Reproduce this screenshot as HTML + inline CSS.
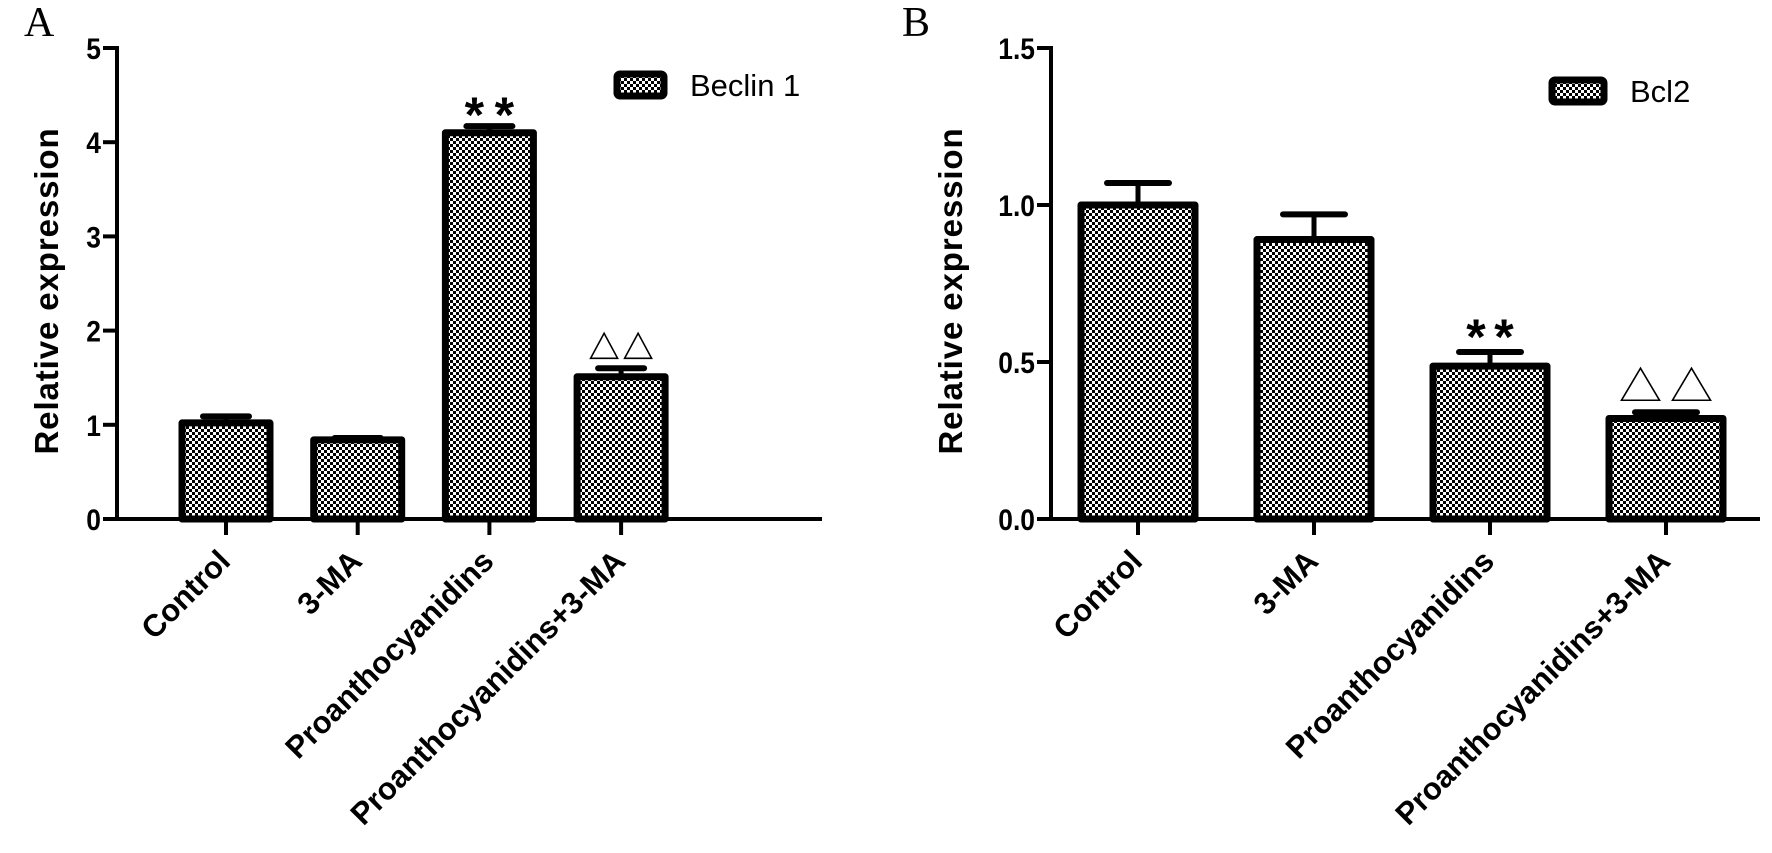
<!DOCTYPE html>
<html><head><meta charset="utf-8"><style>
html,body{margin:0;padding:0;background:#fff;}
svg{display:block;}
</style></head><body>
<svg id="chart" width="1772" height="853" viewBox="0 0 1772 853" xmlns="http://www.w3.org/2000/svg" style="font-family:'Liberation Sans',Arial,sans-serif">
<defs>
<pattern id="chk" width="6" height="6" patternUnits="userSpaceOnUse">
<rect width="6" height="6" fill="#fff"/>
<rect x="0" y="0" width="3" height="3" fill="#000"/>
<rect x="3" y="3" width="3" height="3" fill="#000"/>
</pattern>
</defs>
</svg>
<script>
const categories = ["Control","3-MA","Proanthocyanidins","Proanthocyanidins+3-MA"];
const beclinValues = [1.02, 0.84, 4.10, 1.51];
const beclinErrors = [0.07, 0.02, 0.07, 0.09];
const beclinTicks = ["0","1","2","3","4","5"];
const beclinTickValues = [0,1,2,3,4,5];
const bcl2Values = [1.00, 0.89, 0.487, 0.32];
const bcl2Errors = [0.07, 0.08, 0.045, 0.02];
const bcl2Ticks = ["0.0","0.5","1.0","1.5"];
const bcl2TickValues = [0,0.5,1.0,1.5];
const beclinMarks = ["", "", "**", "tri"];
const bcl2Marks = ["", "", "**", "tri"];

const svg = document.getElementById('chart');
const NS = "http://www.w3.org/2000/svg";
function mk(tag, attrs, parent){
  const e = document.createElementNS(NS, tag);
  for (const k in attrs) e.setAttribute(k, attrs[k]);
  (parent||svg).appendChild(e);
  return e;
}

function panel(cfg){
  const g = mk('g', {});
  
  
  const y = v => cfg.y0 - (v / cfg.ymax) * (cfg.y0 - cfg.ytop);
  const x = i => cfg.c0 + i * cfg.step;

  const L = mk('text', {x: cfg.letterX, y: 36, 'font-size': 42, style: "font-family:'Liberation Serif',serif"}, g);
  L.textContent = cfg.letter;
  
  

  const yt = mk('text', {x: 0, y: 0, 'font-size': 33, 'font-weight': 'bold', 'letter-spacing': 0.9, 'text-anchor': 'middle',
    transform: `translate(${cfg.titleX},291) rotate(-90)`}, g);
  yt.textContent = "Relative expression";
  
  

  const ya = mk('line', {x1: cfg.ax, y1: cfg.ytop - 2, x2: cfg.ax, y2: cfg.y0 + 2, stroke: '#000', 'stroke-width': 4}, g);
  
  
  const xa = mk('line', {x1: cfg.ax - 2, y1: cfg.y0, x2: cfg.axEnd, y2: cfg.y0, stroke: '#000', 'stroke-width': 4}, g);
  
  

  cfg.tickVals.forEach((v, i) => {
    const t = mk('line', {x1: cfg.ax - 14, y1: y(v), x2: cfg.ax, y2: y(v), stroke: '#000', 'stroke-width': 4}, g);
    
    
    const tl = mk('text', {x: cfg.ax - 16, y: y(v) + 11, 'font-size': 30, 'font-weight': 'bold', 'text-anchor': 'end',
      transform: `translate(${(cfg.ax-16)*0.12},0) scale(0.88,1)`}, g);
    tl.textContent = cfg.ticks[i];
    
    
  });

  categories.forEach((c, i) => {
    const cx = x(i), v = cfg.values[i], e = cfg.errors[i];
    const top = y(v), ctop = y(v + e);
    const eb = mk('line', {x1: cx, y1: top, x2: cx, y2: ctop, stroke: '#000', 'stroke-width': 5}, g);
    
    
    const cap = mk('line', {x1: cx - cfg.capW/2, y1: ctop, x2: cx + cfg.capW/2, y2: ctop, stroke: '#000', 'stroke-width': 6, 'stroke-linecap': 'round'}, g);
    
    
    const b = mk('rect', {x: cx - cfg.bw/2, y: top, width: cfg.bw, height: cfg.y0 - top, fill: 'url(#chk)', stroke: '#000', 'stroke-width': 7, 'stroke-linejoin': 'round'}, g);
    
    
    const tk = mk('line', {x1: cx, y1: cfg.y0, x2: cx, y2: cfg.y0 + 16, stroke: '#000', 'stroke-width': 4}, g);
    
    
    const xl = mk('text', {x: 0, y: 0, 'font-size': 31, 'font-weight': 'bold', 'text-anchor': 'end',
      transform: `translate(${cx + 6},563) rotate(-45)`}, g);
    xl.textContent = c;
    
    
    const m = cfg.marks[i];
    if (m === "**") {
      const sg = mk('g', {}, g);
      
      
      [-1, 1].forEach(s => {
        const st = mk('text', {x: cx + s * cfg.starDx, y: ctop + cfg.starOff, 'font-size': 50, 'font-weight': 'bold', 'text-anchor': 'middle'}, sg);
        st.textContent = "*";
      });
    } else if (m === "tri") {
      const tg = mk('g', {}, g);
      
      
      const bot = ctop - cfg.triGap;
      [-1, 1].forEach(s => {
        const tcx = cx + s * cfg.triDx;
        mk('polygon', {points: `${tcx - cfg.triW/2},${bot} ${tcx + cfg.triW/2},${bot} ${tcx},${bot - cfg.triH}`,
          fill: '#fff', stroke: '#000', 'stroke-width': 1.6}, tg);
      });
    }
  });

  const lg = mk('g', {}, g);
  
  
  const lb = mk('rect', {x: cfg.legX, y: cfg.legY, width: cfg.legW, height: 22, rx: 3, fill: 'url(#chk)', stroke: '#000', 'stroke-width': 7}, lg);
  
  
  const lt = mk('text', {x: cfg.legX + cfg.legW + 26, y: cfg.legY + 22, 'font-size': 31}, lg);
  lt.textContent = cfg.series;
  
  
}

panel({name:'panel-a-beclin1', letter:'A', letterX:24, titleX:58, ax:117, axEnd:822, y0:519, ytop:48, ymax:5,
  c0:226, step:131.7, bw:88, capW:46, values:beclinValues, errors:beclinErrors, ticks:beclinTicks, tickVals:beclinTickValues,
  marks:beclinMarks, starDx:15, starOff:6, triGap:10, triW:27, triH:25, triDx:17,
  legX:617, legY:74, legW:47, series:'Beclin 1'});
panel({name:'panel-b-bcl2', letter:'B', letterX:902, titleX:962, ax:1051, axEnd:1760, y0:519, ytop:48, ymax:1.5,
  c0:1138, step:176, bw:114, capW:62, values:bcl2Values, errors:bcl2Errors, ticks:bcl2Ticks, tickVals:bcl2TickValues,
  marks:bcl2Marks, starDx:14, starOff:2, triGap:12, triW:38, triH:32, triDx:25.5,
  legX:1552, legY:80, legW:52, series:'Bcl2'});
</script>
</body></html>
